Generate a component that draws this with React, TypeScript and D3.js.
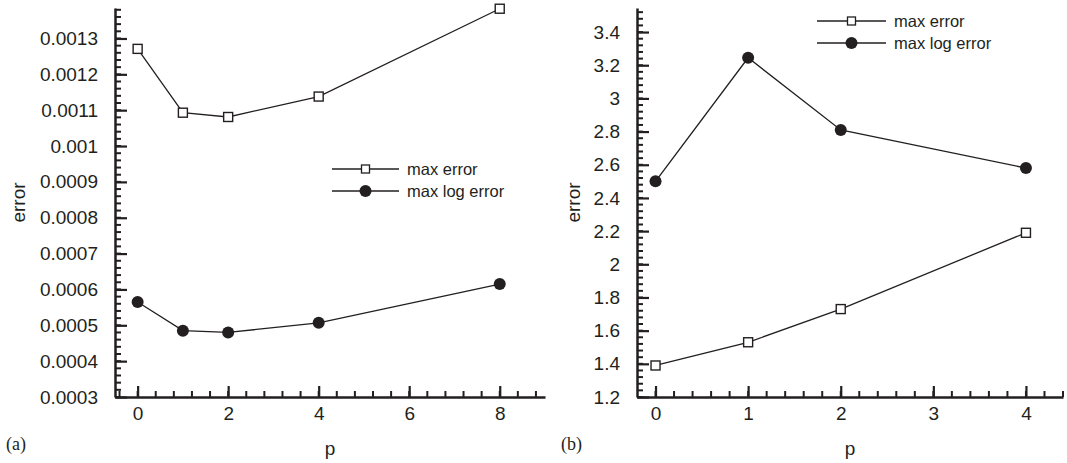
import { useEffect, useRef } from 'react';
import * as d3 from 'd3';

// panel (a)
const pLeft = [0, 1, 2, 4, 8];
const maxErrLeft = [0.001271, 0.001093, 0.001081, 0.001138, 0.001383];
const maxLogErrLeft = [0.000565, 0.000485, 0.00048, 0.000507, 0.000615];
const leftXTicks = [0, 2, 4, 6, 8];
const leftYTicks = [0.0003, 0.0004, 0.0005, 0.0006, 0.0007, 0.0008, 0.0009, 0.001, 0.0011, 0.0012, 0.0013];

// panel (b)
const pRight = [0, 1, 2, 4];
const maxErrRight = [1.39, 1.53, 1.73, 2.19];
const maxLogErrRight = [2.5, 3.245, 2.81, 2.58];
const rightXTicks = [0, 1, 2, 3, 4];
const rightYTicks = [1.2, 1.4, 1.6, 1.8, 2, 2.2, 2.4, 2.6, 2.8, 3, 3.2, 3.4];

const seriesNames = ['max error', 'max log error'];

const INK = '#231f20';
const FONT = '"Liberation Sans", Arial, Helvetica, sans-serif';

function range(a, b, step) {
    const out = [];
    const n = Math.round((b - a) / step);
    for (let i = 0; i <= n; i++) out.push(+(a + i * step).toFixed(8));
    return out;
}

function drawPanel(svg, cfg) {
    const g = svg.append('g');
    const x = d3.scaleLinear().domain(cfg.xDomain).range([cfg.left, cfg.right]);
    const y = d3.scaleLinear().domain(cfg.yDomain).range([cfg.bottom, cfg.top]);

    // minor ticks, pointing inward
    g.append('g')
        .selectAll('line')
        .data(cfg.xMinor)
        .join('line')
        .attr('x1', (d) => x(d))
        .attr('x2', (d) => x(d))
        .attr('y1', cfg.bottom)
        .attr('y2', cfg.bottom - 6)
        .attr('stroke', INK)
        .attr('stroke-width', 2);
    g.append('g')
        .selectAll('line')
        .data(cfg.yMinor)
        .join('line')
        .attr('x1', cfg.left)
        .attr('x2', cfg.left + 6)
        .attr('y1', (d) => y(d))
        .attr('y2', (d) => y(d))
        .attr('stroke', INK)
        .attr('stroke-width', 2);

    // major ticks + labels
    const xAxisG = g
        .append('g')
        .attr('transform', `translate(0,${cfg.bottom})`)
        .call(
            d3
                .axisBottom(x)
                .tickValues(cfg.xTicks)
                .tickSizeInner(-11)
                .tickSizeOuter(0)
                .tickPadding(10)
                .tickFormat((v) => String(v))
        );
    const yAxisG = g
        .append('g')
        .attr('transform', `translate(${cfg.left},0)`)
        .call(
            d3
                .axisLeft(y)
                .tickValues(cfg.yTicks)
                .tickSizeInner(-12)
                .tickSizeOuter(0)
                .tickPadding(17)
                .tickFormat(cfg.yFormat)
        );
    [xAxisG, yAxisG].forEach((a) => {
        a.select('.domain').attr('stroke', INK).attr('stroke-width', 2.5);
        a.selectAll('.tick line').attr('stroke', INK).attr('stroke-width', 2.2);
        a.selectAll('.tick text').attr('fill', INK).attr('font-family', FONT).attr('font-size', 19);
    });

    // axis titles
    g.append('text')
        .attr('x', (cfg.left + cfg.right) / 2)
        .attr('y', 455)
        .attr('text-anchor', 'middle')
        .attr('font-family', FONT)
        .attr('font-size', 19)
        .attr('fill', INK)
        .text('p');
    g.append('text')
        .attr('transform', `translate(${cfg.yTitleX},${(cfg.top + cfg.bottom) / 2}) rotate(-90)`)
        .attr('text-anchor', 'middle')
        .attr('dy', '0.35em')
        .attr('font-family', FONT)
        .attr('font-size', 19)
        .attr('fill', INK)
        .text('error');
    g.append('text')
        .attr('x', cfg.tagX)
        .attr('y', 450)
        .attr('font-family', '"Liberation Serif", "Times New Roman", serif')
        .attr('font-size', 18)
        .attr('fill', INK)
        .text(cfg.tag);

    const line = d3
        .line()
        .x((d) => x(d[0]))
        .y((d) => y(d[1]));
    const sq = d3.zip(cfg.px, cfg.errs);
    const dots = d3.zip(cfg.px, cfg.logErrs);

    g.append('path').attr('d', line(sq)).attr('fill', 'none').attr('stroke', INK).attr('stroke-width', 1.3);
    g.append('path').attr('d', line(dots)).attr('fill', 'none').attr('stroke', INK).attr('stroke-width', 1.3);

    g.append('g')
        .selectAll('rect')
        .data(sq)
        .join('rect')
        .attr('x', (d) => x(d[0]) - 4.5)
        .attr('y', (d) => y(d[1]) - 4.5)
        .attr('width', 9)
        .attr('height', 9)
        .attr('fill', '#fff')
        .attr('stroke', INK)
        .attr('stroke-width', 1.4);
    g.append('g')
        .selectAll('circle')
        .data(dots)
        .join('circle')
        .attr('cx', (d) => x(d[0]))
        .attr('cy', (d) => y(d[1]))
        .attr('r', 6)
        .attr('fill', INK);

    // legend
    const lg = g.append('g');
    seriesNames.forEach((name, i) => {
        const ly = cfg.legY + i * 22;
        const mx = (cfg.legX0 + cfg.legX1) / 2;
        lg.append('line')
            .attr('x1', cfg.legX0)
            .attr('x2', cfg.legX1)
            .attr('y1', ly)
            .attr('y2', ly)
            .attr('stroke', INK)
            .attr('stroke-width', 1.3);
        if (i === 0) {
            lg.append('rect')
                .attr('x', mx - 4)
                .attr('y', ly - 4)
                .attr('width', 8)
                .attr('height', 8)
                .attr('fill', '#fff')
                .attr('stroke', INK)
                .attr('stroke-width', 1.3);
        } else {
            lg.append('circle').attr('cx', mx).attr('cy', ly).attr('r', 6).attr('fill', INK);
        }
        lg.append('text')
            .attr('x', cfg.legX1 + 8)
            .attr('y', ly)
            .attr('dy', '0.35em')
            .attr('font-family', FONT)
            .attr('font-size', 16.5)
            .attr('fill', INK)
            .text(name);
    });
}

export default function App() {
    const ref = useRef(null);

    useEffect(() => {
        const svg = d3.select(ref.current);
        svg.selectAll('*').remove();

        drawPanel(svg, {
            left: 115,
            right: 545,
            top: 8,
            bottom: 397,
            xDomain: [-0.5, 9],
            yDomain: [0.0003, 0.001385],
            xTicks: leftXTicks,
            yTicks: leftYTicks,
            xMinor: range(-0.4, 8.8, 0.4),
            yMinor: range(0.0003, 0.00138, 0.00002),
            yFormat: (v) => String(+v.toFixed(4)),
            px: pLeft,
            errs: maxErrLeft,
            logErrs: maxLogErrLeft,
            yTitleX: 18,
            tag: '(a)',
            tagX: 6,
            legX0: 332,
            legX1: 399,
            legY: 169
        });

        drawPanel(svg, {
            left: 637,
            right: 1063,
            top: 8,
            bottom: 397,
            xDomain: [-0.2, 4.4],
            yDomain: [1.2, 3.545],
            xTicks: rightXTicks,
            yTicks: rightYTicks,
            xMinor: range(0, 4.4, 0.2),
            yMinor: range(1.2, 3.52, 0.04),
            yFormat: (v) => String(+v.toFixed(1)),
            px: pRight,
            errs: maxErrRight,
            logErrs: maxLogErrRight,
            yTitleX: 573,
            tag: '(b)',
            tagX: 561,
            legX0: 817,
            legX1: 886,
            legY: 21
        });
    }, []);

    return (
        <svg
            ref={ref}
            width={1067}
            height={463}
            style={{ position: 'absolute', left: 0, top: 0, background: '#fff' }}
        />
    );
}
